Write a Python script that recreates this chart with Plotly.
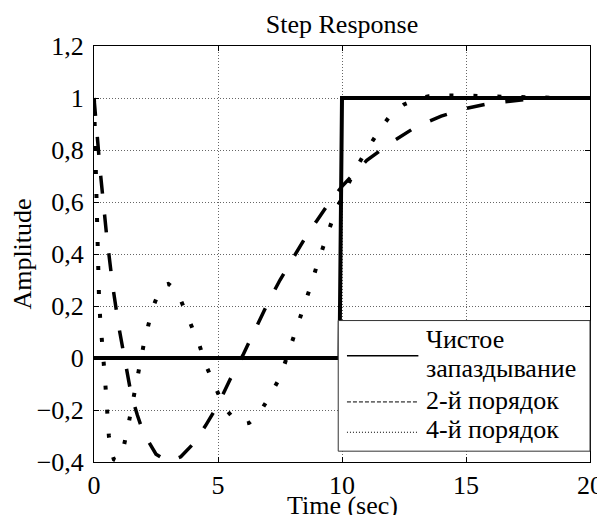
import plotly.graph_objects as go

# ---- data ----
t_delay = [0, 9.9, 10.0, 20]
y_delay = [0, 0, 1, 1]

t_pade2 = [0, 0.25, 0.5, 0.75, 1.0, 1.25, 1.5, 1.75, 2.0, 2.5,
           3.0, 3.5, 4.0, 4.5, 5.0, 5.5, 6.0, 6.5, 7.0, 7.5,
           8.0, 8.5, 9.0, 9.5, 10.0, 10.5, 11.0, 12.0, 13.0, 14.0,
           15, 16, 17, 18, 19, 20]
y_pade2 = [1.0, 0.72, 0.48, 0.28, 0.12, -0.02, -0.14, -0.22, -0.29, -0.37,
           -0.40, -0.38, -0.33, -0.26, -0.18, -0.08, 0.01, 0.11, 0.21, 0.30,
           0.38, 0.46, 0.53, 0.60, 0.66, 0.71, 0.76, 0.83, 0.89, 0.93,
           0.96, 0.98, 0.99, 1.0, 1.0, 1.0]

t_pade4 = [0, 0.05, 0.1, 0.15, 0.2, 0.25, 0.3, 0.35, 0.4, 0.45,
           0.5, 0.55, 0.6, 0.7, 0.8, 0.9, 1.0, 1.1, 1.2, 1.4,
           1.6, 1.8, 2.0, 2.2, 2.4, 2.6, 2.8, 3.0, 3.2, 3.4,
           3.6, 3.8, 4.0, 4.25, 4.5, 4.75, 5.0, 5.25, 5.5, 5.75,
           6.0, 6.25, 6.5, 6.75, 7.0, 7.25, 7.5, 7.75, 8.0, 8.25,
           8.5, 8.75, 9.0, 9.25, 9.5, 9.75, 10.0, 10.5, 11.0, 11.5,
           12.0, 12.5, 13.0, 13.5, 14.0, 15.0, 16.0, 17.0, 18.0, 19.0,
           20.0]
y_pade4 = [1.0, 0.78, 0.57, 0.38, 0.24, 0.15, 0.10, 0.05, -0.02, -0.09,
           -0.16, -0.25, -0.30, -0.36, -0.39, -0.395, -0.385, -0.365, -0.34, -0.25,
           -0.15, -0.04, 0.05, 0.13, 0.20, 0.25, 0.28, 0.285, 0.27, 0.245,
           0.20, 0.16, 0.11, 0.05, -0.025, -0.085, -0.135, -0.19, -0.22, -0.245,
           -0.255, -0.25, -0.23, -0.20, -0.16, -0.12, -0.075, -0.005, 0.065, 0.13,
           0.21, 0.28, 0.36, 0.43, 0.50, 0.57, 0.615, 0.72, 0.80, 0.875,
           0.94, 0.975, 0.995, 1.007, 1.01, 1.01, 1.006, 1.003, 1.001, 1.0,
           1.0]

series_names = ["Чистое запаздывание", "2-й порядок", "4-й порядок"]
legend_lines = ["Чистое", "запаздывание", "2-й порядок", "4-й порядок"]

x_tick_vals = [0, 5, 10, 15, 20]
x_tick_text = ["0", "5", "10", "15", "20"]
y_tick_vals = [-0.4, -0.2, 0, 0.2, 0.4, 0.6, 0.8, 1.0, 1.2]
y_tick_text = ["\u22120,4", "\u22120,2", "0", "0,2", "0,4", "0,6", "0,8", "1", "1,2"]

FONT = "Times New Roman, Liberation Serif, DejaVu Serif, serif"
FS = 26

fig = go.Figure()

fig.add_trace(go.Scatter(x=t_delay, y=y_delay, mode="lines", name=series_names[0],
                         showlegend=False, line=dict(color="black", width=4)))
fig.add_trace(go.Scatter(x=t_pade2, y=y_pade2, mode="lines", name=series_names[1],
                         showlegend=False,
                         line=dict(color="black", width=3.5, dash="18px,21px")))
fig.add_trace(go.Scatter(x=t_pade4, y=y_pade4, mode="lines", name=series_names[2],
                         showlegend=False,
                         line=dict(color="black", width=4, dash="4px,20px")))

# ---- legend box drawn in paper coordinates (MATLAB-style compact legend) ----
box = dict(x0=0.4924, x1=1.0, y0=0.026, y1=0.340)
sample_x0, sample_x1 = 0.510, 0.654
sample_y = [0.2554, 0.1444, 0.0715]
sample_dash = ["solid", "4px,2px", "1px,2px"]
sample_width = [1.5, 1, 1]
text_x = 0.665
text_y = [0.2943, 0.2247, 0.1489, 0.0770]

shapes = [dict(type="rect", xref="paper", yref="paper", layer="above",
               fillcolor="white", line=dict(color="#333333", width=1), **box)]
for yy, dd, ww in zip(sample_y, sample_dash, sample_width):
    shapes.append(dict(type="line", xref="paper", yref="paper", layer="above",
                       x0=sample_x0, x1=sample_x1, y0=yy, y1=yy,
                       line=dict(color="black", width=ww, dash=dd)))

annotations = []
for txt, yy in zip(legend_lines, text_y):
    annotations.append(dict(text=txt, xref="paper", yref="paper", x=text_x, y=yy,
                            xanchor="left", yanchor="middle", showarrow=False,
                            font=dict(family=FONT, size=FS, color="black")))
# x-axis title (placed explicitly so it sits as in the reference)
annotations.append(dict(text="Time (sec)", xref="paper", yref="paper", x=0.5, y=-0.066,
                        xanchor="center", yanchor="top", showarrow=False,
                        font=dict(family=FONT, size=FS, color="black")))

axis_common = dict(
    showgrid=True, gridcolor="#666666", gridwidth=1, griddash="1px,2px",
    showline=True, linecolor="black", linewidth=1, mirror="ticks",
    ticks="inside", ticklen=5, tickcolor="black", zeroline=False,
    tickfont=dict(family=FONT, size=FS, color="black"),
)

# page has an 8px body margin: figure coords = page coords - 8
fig.update_layout(
    width=597, height=527,
    margin=dict(l=85.5, r=15, t=37.5, b=72.5, autoexpand=False),
    paper_bgcolor="white", plot_bgcolor="white",
    font=dict(family=FONT, size=FS, color="black"),
    showlegend=False,
    title=dict(text="Step Response", x=0.5, xref="paper", xanchor="center",
               yref="container", y=1 - 15.5 / 527, yanchor="middle",
               font=dict(family=FONT, size=FS, color="black")),
    xaxis=dict(range=[0, 20], tickmode="array", tickvals=x_tick_vals, ticktext=x_tick_text,
               **axis_common),
    yaxis=dict(range=[-0.4, 1.2], tickmode="array", tickvals=y_tick_vals, ticktext=y_tick_text,
               ticklabelstandoff=4,
               title=dict(text="Amplitude", standoff=2,
                          font=dict(family=FONT, size=FS, color="black")),
               **axis_common),
    shapes=shapes,
    annotations=annotations,
)

fig.write_html("out.html")
